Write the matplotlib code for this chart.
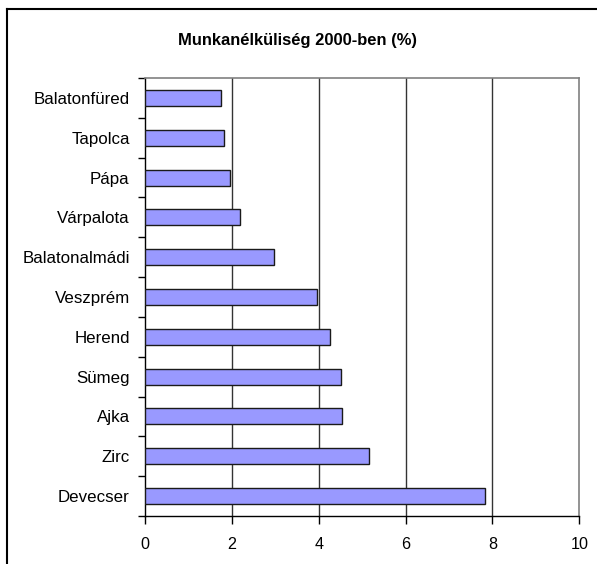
import numpy as np
import matplotlib.pyplot as plt
from matplotlib.lines import Line2D

plt.rcParams["font.family"] = ["Liberation Sans", "DejaVu Sans"]

# Munkanélküliség 2000-ben (%), felülről lefelé
telepulesek = ["Balatonfüred", "Tapolca", "Pápa", "Várpalota", "Balatonalmádi",
               "Veszprém", "Herend", "Sümeg", "Ajka", "Zirc", "Devecser"]
munkanelkuliseg = [1.75, 1.83, 1.95, 2.18, 2.97, 3.96, 4.26, 4.52, 4.54, 5.16, 7.84]
x_ticks = [0, 2, 4, 6, 8, 10]

fig = plt.figure(figsize=(5.97, 5.64), dpi=100)
ax = fig.add_axes([145 / 597, 1 - 516 / 564, (579.3 - 145) / 597, (516 - 78) / 564])

y = np.arange(len(telepulesek))
ax.barh(y, munkanelkuliseg, height=0.4, color="#9999FF", edgecolor="#1a1a1a",
        linewidth=1.0, zorder=3)

ax.set_xlim(0, 10)
ax.set_ylim(len(telepulesek) - 0.5, -0.5)
ax.set_xticks(x_ticks)
ax.set_xticklabels([str(t) for t in x_ticks])
ax.set_yticks(y)
ax.set_yticklabels(telepulesek)
ax.set_yticks(np.arange(-0.5, len(telepulesek)), minor=True)

# függőleges rácsvonalak
for t in x_ticks[1:-1]:
    ax.axvline(t, color="#333333", linewidth=1.0, zorder=1)

ax.tick_params(axis="y", which="major", length=0, pad=11, labelsize=12.2)
ax.tick_params(axis="y", which="minor", length=5, width=1, color="black")
ax.tick_params(axis="x", length=6, width=1, pad=9, labelsize=11.6)

for side in ["left", "bottom"]:
    ax.spines[side].set_color("black")
    ax.spines[side].set_linewidth(1.0)
for side in ["top", "right"]:
    ax.spines[side].set_color("#808080")
    ax.spines[side].set_linewidth(1.2)

fig.text(0.499, 1 - 40 / 564, "Munkanélküliség 2000-ben (%)", ha="center",
         va="center", fontsize=11.9, fontweight="bold")

# a diagram külső keretének látható része (bal és felső szél)
fig.add_artist(Line2D([7 / 597, 7 / 597], [0, 1 - 9 / 564], color="black", linewidth=1.5))
fig.add_artist(Line2D([7 / 597, 1], [1 - 9 / 564, 1 - 9 / 564], color="black", linewidth=1.5))

fig.savefig("out.png", dpi=100)
plt.close(fig)
